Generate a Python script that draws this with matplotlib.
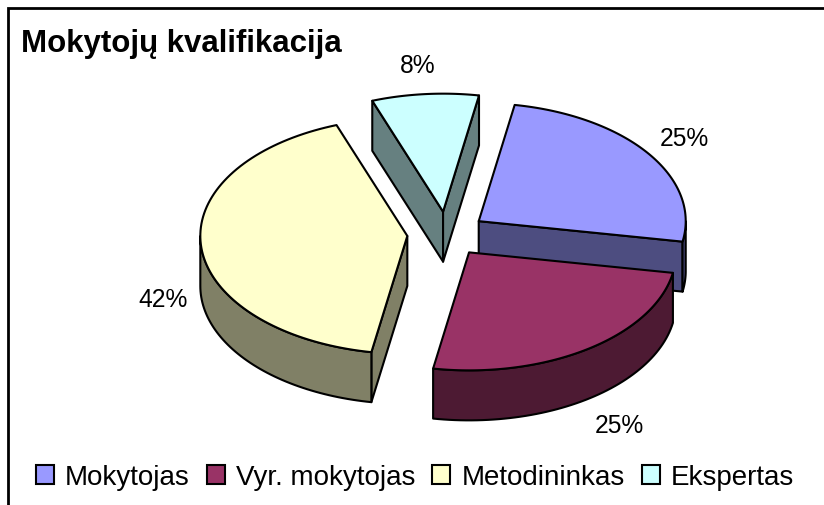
import matplotlib
matplotlib.use("Agg")
import matplotlib.pyplot as plt
from matplotlib.patches import Patch
import numpy as np

plt.rcParams['font.family'] = ['Liberation Sans', 'DejaVu Sans']

categories = ['Mokytojas', 'Vyr. mokytojas', 'Metodininkas', 'Ekspertas']
values = [3, 3, 5, 1]
colors = ['#9999FF', '#993366', '#FFFFCC', '#CCFFFF']
side_colors = ['#4D4D80', '#4D1A33', '#808066', '#668080']
title = 'Mokytojų kvalifikacija'

# pie geometry, in pixels of the picture
cx, cy = 446.5, 235
rx, ry = 207, 118
depth = 50
explode = 0.19
start_angle = 10
draw_order = [3, 0, 2, 1]
label_xy = [(684, 139), (619, 426), (163, 300), (418, 66)]

fig = plt.figure(figsize=(8.24, 5.06), dpi=100)
ax = fig.add_axes([0, 0, 1, 1])
ax.set_xlim(0, 824)
ax.set_ylim(506, 0)
ax.axis('off')

ax.plot([8, 8, 824], [506, 9, 9], color='black', lw=2, solid_joinstyle='miter', clip_on=True)


def point(angle, scale=1.0):
    # angle runs clockwise from the top of the pie
    a = np.radians(angle)
    return scale * rx * np.sin(a), -scale * ry * np.cos(a)


edges = np.cumsum([0] + values) / sum(values) * 360 + start_angle

for i in draw_order:
    a0, a1 = edges[i], edges[i + 1]
    mid = (a0 + a1) / 2
    ox, oy = point(mid, explode)
    ax0, ay0 = cx + ox, cy + oy
    qx, qy = point(mid, 0.5)

    # flat faces that turn towards the viewer
    for a in (a0, a1):
        px, py = point(a)
        if qy < py / px * qx:
            ax.fill([ax0, ax0 + px, ax0 + px, ax0],
                    [ay0, ay0 + py, ay0 + py + depth, ay0 + depth],
                    facecolor=side_colors[i], edgecolor='black', lw=1.5, joinstyle='round')

    # curved outer wall, only the front half of the rim shows
    lo, hi = max(a0, 90), min(a1, 270)
    if lo < hi:
        t = np.linspace(lo, hi, 60)
        px, py = point(t)
        ax.fill(np.r_[ax0 + px, ax0 + px[::-1]],
                np.r_[ay0 + py, ay0 + py[::-1] + depth],
                facecolor=side_colors[i], edgecolor='black', lw=1.5, joinstyle='round')

    # top of the slice
    t = np.linspace(a0, a1, 90)
    px, py = point(t)
    ax.fill(np.r_[ax0, ax0 + px], np.r_[ay0, ay0 + py],
            facecolor=colors[i], edgecolor='black', lw=1.5, joinstyle='round')

for v, (x, y) in zip(values, label_xy):
    ax.text(x, y, '%d%%' % round(v / sum(values) * 100), fontsize=17.7, ha='center', va='center')

ax.text(21, 44, title, fontsize=22.5, fontweight='bold', ha='left', va='center')

handles = [Patch(facecolor=c, edgecolor='black', lw=1.5) for c in colors]
ax.legend(handles, categories, ncol=4, frameon=False, fontsize=20,
          loc='center left', bbox_to_anchor=(36 / 824, 1 - 478 / 506), borderpad=0, borderaxespad=0,
          handlelength=0.65, handleheight=0.65, handletextpad=0.4, columnspacing=0.61)

plt.savefig('out.png', dpi=100)
